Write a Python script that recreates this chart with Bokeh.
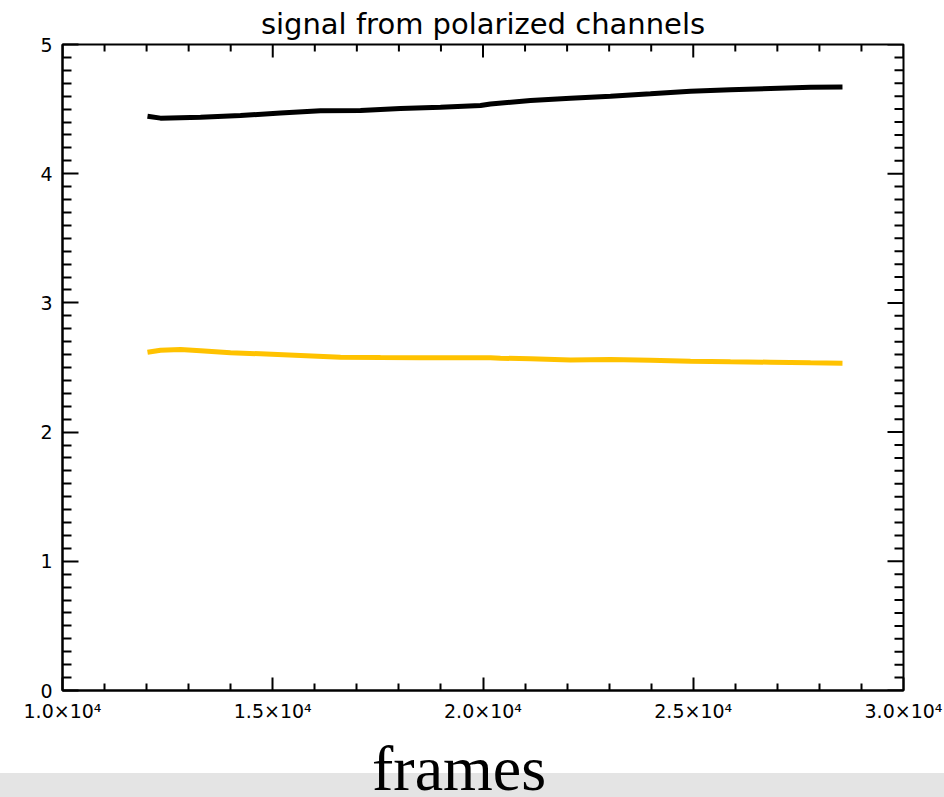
from bokeh.plotting import figure
from bokeh.models import FixedTicker, Div
from bokeh.layouts import column
from bokeh.embed import file_html
from bokeh.resources import INLINE
import numpy as np

# ---- data ----
black_x = [12021, 12331, 13282, 14233, 15184, 16135, 17087, 18038, 18989, 19941,
           20178, 21130, 22081, 23032, 23983, 24934, 25885, 26837, 27788, 28549]
black_y = [4.445, 4.430, 4.437, 4.450, 4.470, 4.487, 4.490, 4.505, 4.515, 4.528,
           4.540, 4.567, 4.584, 4.600, 4.618, 4.638, 4.650, 4.660, 4.670, 4.672]

orange_x = [12021, 12331, 12806, 13282, 13995, 14708, 15660, 16611, 17562, 18514,
            19465, 20178, 20416, 21130, 22081, 23032, 23983, 24934, 25885, 26837,
            27788, 28549]
orange_y = [2.618, 2.634, 2.639, 2.629, 2.614, 2.606, 2.593, 2.580, 2.577, 2.575,
            2.575, 2.575, 2.572, 2.567, 2.559, 2.562, 2.557, 2.549, 2.544, 2.541,
            2.536, 2.533]

x_ticks = [10000, 15000, 20000, 25000, 30000]
x_tick_labels = ["1.0×10⁴", "1.5×10⁴", "2.0×10⁴", "2.5×10⁴", "3.0×10⁴"]
y_ticks = [0, 1, 2, 3, 4, 5]
y_tick_labels = ["0", "1", "2", "3", "4", "5"]

title_text = "signal from polarized channels"
x_label = "frames"

X0, X1 = 10000, 30000
Y0, Y1 = 0, 5

# ---- figure ----
p = figure(width=944, height=741, x_range=(X0, X1), y_range=(Y0, Y1),
           output_backend="svg", toolbar_location=None,
           min_border_left=62, min_border_right=41, min_border_top=44,
           min_border_bottom=51, background_fill_color="white",
           border_fill_color="white")
p.grid.visible = False
p.outline_line_color = "black"
p.outline_line_width = 2

p.title.text = title_text
p.title.align = "center"
p.title.text_font = "DejaVu Sans"
p.title.text_font_size = "29px"
p.title.text_font_style = "normal"
p.title.text_color = "black"
p.title.standoff = 8

ax_bottom = p.below[0]
ax_left = p.left[0]

x_minor = [int(v) for v in np.arange(X0, X1 + 1, 1000) if v % 5000 != 0]
y_minor = [round(float(v), 1) for v in np.arange(Y0, Y1 + 0.01, 0.1)
           if abs(v - round(v)) > 1e-6]

def style_axis(ax, ticks, minor, labels, major_in, minor_in, standoff):
    ax.ticker = FixedTicker(ticks=ticks, minor_ticks=minor)
    ax.axis_line_color = "black"
    ax.axis_line_width = 2
    ax.major_tick_line_color = "black"
    ax.major_tick_line_width = 2
    ax.minor_tick_line_color = "black"
    ax.minor_tick_line_width = 2
    ax.major_tick_in = major_in
    ax.major_tick_out = 0
    ax.minor_tick_in = minor_in
    ax.minor_tick_out = 0
    ax.major_label_overrides = {t: l for t, l in zip(ticks, labels)}
    ax.major_label_text_font = "DejaVu Sans"
    ax.major_label_text_font_size = "19px"
    ax.major_label_text_color = "black"
    ax.major_label_standoff = standoff

style_axis(ax_bottom, x_ticks, x_minor, x_tick_labels, 13, 7, 9)
style_axis(ax_left, y_ticks, y_minor, y_tick_labels, 16, 9, 10)

# mirrored tick marks on the top and right edges (half of each dash is clipped)
p.scatter(x_ticks, [Y1] * len(x_ticks), marker="dash", angle=np.pi / 2,
          size=26, line_color="black", line_width=2)
p.scatter(x_minor, [Y1] * len(x_minor), marker="dash", angle=np.pi / 2,
          size=14, line_color="black", line_width=2)
p.scatter([X1] * len(y_ticks), y_ticks, marker="dash",
          size=32, line_color="black", line_width=2)
p.scatter([X1] * len(y_minor), y_minor, marker="dash",
          size=18, line_color="black", line_width=2)

p.line(black_x, black_y, line_color="black", line_width=5)
p.line(orange_x, orange_y, line_color="#ffc200", line_width=5)

label_div = Div(text=x_label, width=944, height=56, margin=0,
                styles={"font-family": "'Liberation Serif', serif",
                        "font-size": "64px",
                        "line-height": "56px",
                        "color": "black",
                        "text-indent": "372px",
                        "white-space": "nowrap",
                        "overflow": "visible",
                        "background": "linear-gradient(to bottom, #ffffff 0px, "
                                      "#ffffff 32px, #e4e4e4 32px, #e4e4e4 100%)"})

layout = column(p, label_div, spacing=0)
open("out.html", "w").write(file_html(layout, INLINE))
